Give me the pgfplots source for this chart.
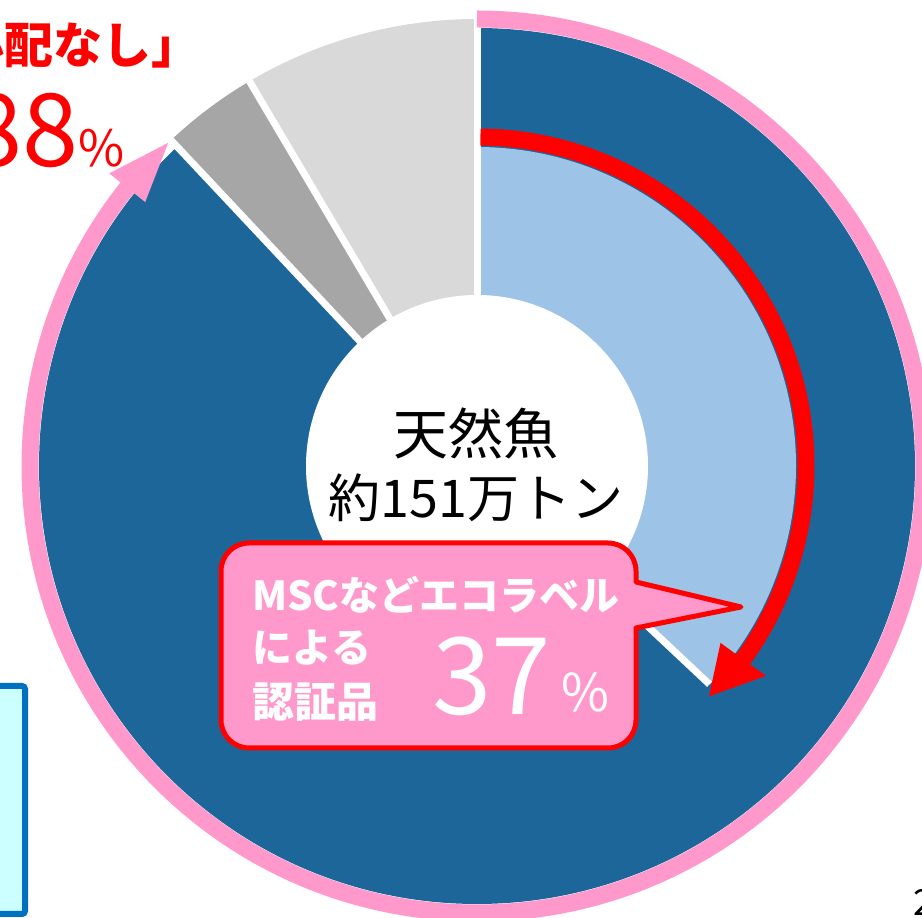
\documentclass[border=0pt]{standalone}
\usepackage{pgfplots}
\pgfplotsset{compat=1.18}
\usepackage{fontspec}
\newfontfamily\jp{Noto Sans CJK JP}
\definecolor{dblue}{HTML}{1C6699}
\definecolor{lblue}{HTML}{9DC3E6}
\definecolor{dgray}{HTML}{A6A6A6}
\definecolor{lgray}{HTML}{D9D9D9}
\definecolor{pinkc}{HTML}{FF99CC}
\definecolor{cyanbox}{HTML}{CCFFFF}
\definecolor{boxblue}{HTML}{0070C0}
\def\cx{477}\def\cy{452}
% sector: colour, start (percent), size (percent), radius
\newcommand{\sector}[4]{%
  \fill[#1] (axis cs:\cx,\cy) -- ([shift={({90-3.6*(#2)}:#4pt)}]axis cs:\cx,\cy)
     arc[start angle={90-3.6*(#2)}, delta angle={-3.6*(#3)}, radius=#4pt] -- cycle;}
% radial white separator: position (percent), r1, r2
\newcommand{\radline}[3]{%
  \draw[white, line width=7pt] ([shift={({90-3.6*(#1)}:#2pt)}]axis cs:\cx,\cy) -- ([shift={({90-3.6*(#1)}:#3pt)}]axis cs:\cx,\cy);}
\begin{document}
\begin{tikzpicture}
\begin{axis}[name=ax, hide axis, scale only axis, x=1pt, y=1pt,
  xmin=0, xmax=922, ymin=0, ymax=918, clip=false]
% outer ring: 88 / 3.5 / 8.5
\sector{dblue}{0}{88}{438}
\sector{dgray}{88}{3.5}{447}
\sector{lgray}{91.5}{8.5}{447}
% inner: certified 37
\sector{lblue}{0}{37}{319}
\fill[white] (axis cs:\cx,\cy) circle[radius=171pt];
\radline{0}{165}{470}
\radline{88}{165}{460}
\radline{91.5}{165}{460}
\radline{37}{165}{319}
% pink ring arrow
\draw[pinkc, line width=17pt] ([shift={(90:447pt)}]axis cs:\cx,\cy)
   arc[start angle=90, delta angle=-309, radius=447pt];
\fill[pinkc] ([shift={({90-308.5}:424pt)}]axis cs:\cx,\cy) -- ([shift={({90-316.3}:447pt)}]axis cs:\cx,\cy)
   -- ([shift={({90-308.5}:470pt)}]axis cs:\cx,\cy) -- cycle;
% red arrow
\draw[red, line width=17pt] ([shift={(89.4:329pt)}]axis cs:\cx,\cy)
   arc[start angle=89.4, delta angle=-127, radius=329pt];
\fill[red] ([shift={({90-126}:301pt)}]axis cs:\cx,\cy) -- ([shift={({90-134.8}:327pt)}]axis cs:\cx,\cy)
   -- ([shift={({90-126}:357pt)}]axis cs:\cx,\cy) -- cycle;
% centre text
\node[inner sep=0, font=\jp\fontsize{55}{55}\selectfont] at (axis cs:476,484.5) {天然魚};
\node[inner sep=0, font=\jp\fontsize{52}{52}\selectfont] at (axis cs:476,420.5) {約151万トン};
% callout
\draw[red, line width=5pt, fill=pinkc, line join=round]
   (axis cs:249,375) -- (axis cs:608,375) arc[start angle=90, end angle=0, radius=28pt]
   -- (axis cs:636,336) -- (axis cs:741,311) -- (axis cs:636,290) -- (axis cs:636,198)
   arc[start angle=0, end angle=-90, radius=28pt] -- (axis cs:249,170)
   arc[start angle=270, end angle=180, radius=28pt] -- (axis cs:221,347)
   arc[start angle=180, end angle=90, radius=28pt] -- cycle;
\node[anchor=base west, inner sep=0, text=white, font=\jp\bfseries\fontsize{40}{40}\selectfont] at (axis cs:252,307) {MSCなどエコラベル};
\node[anchor=base west, inner sep=0, text=white, font=\jp\bfseries\fontsize{40}{40}\selectfont] at (axis cs:252,255) {による};
\node[anchor=base west, inner sep=0, text=white, font=\jp\bfseries\fontsize{42}{42}\selectfont] at (axis cs:252,200) {認証品};
\node[anchor=base west, inner sep=0, text=white, font=\jp\fontsize{107}{107}\selectfont] at (axis cs:432,203) {37};
\node[anchor=base west, inner sep=0, text=white, font=\jp\fontsize{52}{52}\selectfont] at (axis cs:561,206) {\%};
% top-left text
\node[anchor=base west, inner sep=0, text=red, font=\jp\bfseries\fontsize{49}{49}\selectfont] at (axis cs:-45,854) {心配なし」};
\node[anchor=base east, inner sep=0, text=red] at (axis cs:125,751) {{\jp\fontsize{101}{101}\selectfont 88}{\jp\fontsize{50}{50}\selectfont\%}};
% left box
\draw[boxblue, line width=6pt, fill=cyanbox, rounded corners=3pt] (axis cs:-30,4) rectangle (axis cs:25,232);
% page number fragment
\node[anchor=base west, inner sep=0, font=\jp\fontsize{36}{36}\selectfont] at (axis cs:913,2) {2};
\end{axis}
\pgfresetboundingbox
\useasboundingbox (ax.south west) rectangle (ax.north east);
\end{tikzpicture}
\end{document}
